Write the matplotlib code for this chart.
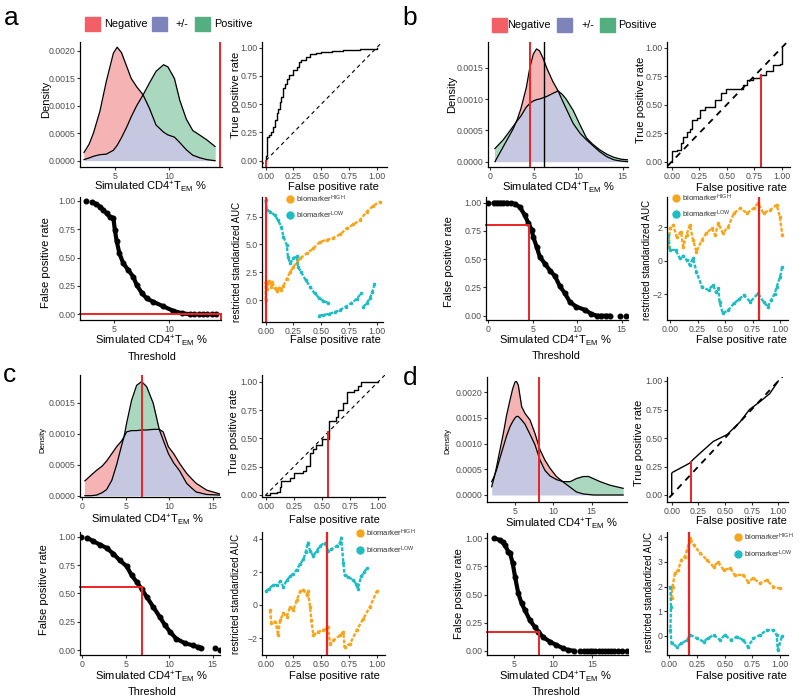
import numpy as np
import matplotlib
matplotlib.use("Agg")
import matplotlib.pyplot as plt
from matplotlib.patches import Rectangle
from matplotlib.lines import Line2D

plt.rcParams['font.family'] = ['Liberation Sans', 'DejaVu Sans']
plt.rcParams['mathtext.fontset'] = 'custom'
plt.rcParams['mathtext.rm'] = 'Liberation Sans'
plt.rcParams['mathtext.it'] = 'Liberation Sans:italic'
plt.rcParams['mathtext.bf'] = 'Liberation Sans:bold'
plt.rcParams['axes.unicode_minus'] = True

nan = np.nan

# ---------------- DATA ----------------
legend_labels = ["Negative", "+/-", "Positive"]
biomarker_labels = [r"biomarker$^{\mathrm{HIGH}}$", r"biomarker$^{\mathrm{LOW}}$"]

# density curves (x grid, negative density, positive density)
dens_a_x = [2.13, 2.6, 3.0, 3.6, 4.2, 4.85, 5.2, 5.6, 6.1, 6.5, 7.0, 7.6, 8.2, 8.8, 9.5, 9.9, 10.5, 11.0, 11.6, 12.2, 12.9, 13.5, 14.26]
dens_a_neg = [0.00015, 0.0003, 0.0005, 0.0009, 0.00145, 0.00196, 0.00207, 0.00197, 0.00171, 0.0015, 0.00135, 0.0012, 0.00095, 0.00065, 0.00052, 0.00047, 0.00043, 0.00033, 0.0002, 0.0001, 0.00005, 0.00002, 0.0]
dens_a_pos = [0.00002, 0.00005, 0.00008, 0.00011, 0.00012, 0.00019, 0.00028, 0.00042, 0.00062, 0.0008, 0.001, 0.0012, 0.00142, 0.00163, 0.00175, 0.00171, 0.0015, 0.0011, 0.00076, 0.00055, 0.00046, 0.00038, 0.00026]

dens_b_x = [0.56, 1.5, 2.6, 3.1, 3.5, 4.1, 4.5, 4.9, 5.26, 5.6, 6.0, 6.4, 7.1, 7.7, 8.2, 8.6, 9.4, 10.2, 10.9, 11.6, 12.4, 13.2, 14.0, 14.8, 15.6]
dens_b_neg = [0.0, 0.00024, 0.00052, 0.00068, 0.00085, 0.00118, 0.0015, 0.00172, 0.0018, 0.00177, 0.00165, 0.0015, 0.00128, 0.00113, 0.00097, 0.00085, 0.00061, 0.00045, 0.00035, 0.00026, 0.00016, 0.00008, 0.00003, 0.00001, 0.0]
dens_b_pos = [0.00021, 0.00035, 0.00056, 0.00066, 0.00073, 0.00087, 0.00093, 0.00097, 0.00099, 0.001, 0.00102, 0.00104, 0.00109, 0.00113, 0.00107, 0.001, 0.00082, 0.00058, 0.00038, 0.00028, 0.00019, 0.00012, 0.00007, 0.00004, 0.00003]

dens_c_x = [0.3, 1.0, 1.65, 2.3, 2.8, 3.4, 3.95, 4.5, 4.8, 5.1, 5.67, 6.25, 6.82, 7.4, 8.16, 8.85, 9.3, 9.9, 10.5, 11.2, 12.0, 12.6, 13.1, 14.3, 15.8]
dens_c_neg = [0.00024, 0.00033, 0.00041, 0.00048, 0.00056, 0.00068, 0.00079, 0.00088, 0.00095, 0.00103, 0.00105, 0.00105, 0.00106, 0.00106, 0.00107, 0.00107, 0.00103, 0.00079, 0.00068, 0.00052, 0.00036, 0.00027, 0.0002, 0.00009, 0.00003]
dens_c_pos = [0.0, 0.0, 0.00001, 0.00005, 0.0001, 0.00025, 0.0005, 0.0008, 0.00095, 0.00117, 0.00154, 0.00178, 0.00184, 0.00176, 0.00149, 0.00107, 0.0009, 0.00068, 0.00053, 0.0004, 0.0002, 0.00012, 0.00006, 0.00002, 0.00001]

dens_d_x = [1.96, 2.3, 2.6, 3.0, 3.48, 3.9, 4.35, 4.7, 5.0, 5.2, 5.43, 5.87, 6.3, 6.96, 7.6, 8.26, 8.9, 9.57, 10.4, 11.3, 12.2, 13.0, 13.9, 14.6, 15.2, 16.1, 17.4, 19.1]
dens_d_neg = [0.00016, 0.00035, 0.00055, 0.00085, 0.0012, 0.00155, 0.00185, 0.00207, 0.0022, 0.00221, 0.00214, 0.00172, 0.00159, 0.00146, 0.0012, 0.00088, 0.00068, 0.00052, 0.00036, 0.00025, 0.00015, 0.00006, 0.00002, 0.00001, 0.0, 0.0, 0.0, 0.0]
dens_d_pos = [0.00026, 0.00037, 0.00049, 0.0007, 0.00094, 0.00115, 0.00133, 0.00143, 0.0015, 0.00153, 0.00153, 0.00146, 0.00138, 0.00118, 0.00098, 0.00068, 0.00048, 0.00037, 0.0003, 0.00026, 0.00026, 0.00032, 0.00036, 0.00036, 0.00032, 0.00026, 0.00019, 0.00013]

# ROC curves
roc_a_fpr = [0, 0, 0.01, 0.03, 0.05, 0.07, 0.08, 0.1, 0.11, 0.13, 0.14, 0.16, 0.17, 0.19, 0.21, 0.25, 0.28, 0.3, 0.32, 0.36, 0.4, 0.45, 0.5, 0.6, 0.7, 0.85, 0.95, 1.0]
roc_a_tpr = [0, 0.04, 0.21, 0.23, 0.25, 0.3, 0.36, 0.42, 0.46, 0.52, 0.56, 0.64, 0.68, 0.72, 0.76, 0.8, 0.83, 0.87, 0.89, 0.92, 0.94, 0.95, 0.96, 0.975, 0.98, 0.985, 0.99, 1.0]
roc_b_fpr = [0, 0, 0.045, 0.08, 0.1, 0.14, 0.17, 0.18, 0.23, 0.26, 0.3, 0.35, 0.39, 0.44, 0.45, 0.49, 0.59, 0.65, 0.68, 0.74, 0.8, 0.86, 0.92, 0.98, 1.0, 1.0]
roc_b_tpr = [0, 0.09, 0.1, 0.16, 0.22, 0.26, 0.29, 0.37, 0.38, 0.45, 0.48, 0.48, 0.54, 0.54, 0.6, 0.64, 0.64, 0.67, 0.72, 0.73, 0.76, 0.8, 0.85, 0.86, 0.95, 1.0]
roc_c_fpr = [0, 0.04, 0.1, 0.13, 0.14, 0.22, 0.25, 0.33, 0.36, 0.39, 0.42, 0.45, 0.5, 0.56, 0.56, 0.62, 0.64, 0.69, 0.72, 0.78, 0.82, 0.85, 1.0]
roc_c_tpr = [0, 0.015, 0.03, 0.07, 0.12, 0.15, 0.19, 0.21, 0.26, 0.37, 0.41, 0.44, 0.49, 0.53, 0.65, 0.69, 0.75, 0.81, 0.91, 0.93, 0.96, 1.0, 1.0]
roc_d_fpr = [0, 0.0, 0.01, 0.05, 0.11, 0.17, 0.2, 0.27, 0.39, 0.52, 0.64, 0.73, 0.83, 0.92, 1.0]
roc_d_tpr = [0, 0.19, 0.2, 0.22, 0.25, 0.28, 0.31, 0.37, 0.47, 0.53, 0.64, 0.75, 0.82, 0.89, 1.0]

# False positive rate vs threshold: continuous run of dots + isolated dots
thr_a_x = [2.95, 3.3, 3.69, 4.0, 4.3, 4.6, 4.91, 5.06, 5.21, 5.46, 5.82, 6.28, 6.74, 7.04, 7.5, 7.96, 8.57, 9.48, 10.4, 11.16, 11.92]
thr_a_y = [0.99, 0.975, 0.95, 0.92, 0.89, 0.86, 0.85, 0.74, 0.65, 0.54, 0.45, 0.39, 0.33, 0.26, 0.19, 0.14, 0.11, 0.07, 0.03, 0.01, 0.0]
thr_a_dx = [2.41, 12.3, 12.7, 13.1, 13.5, 13.9, 14.3]
thr_a_dy = [1.0, 0.0, 0.0, 0.0, 0.0, 0.0, 0.0]

thr_b_x = [0.6, 1.0, 1.3, 1.7, 2.06, 2.5, 3.0, 3.56, 4.1, 4.5, 4.87, 5.05, 5.43, 5.8, 6.37, 6.93, 7.5, 8.05, 8.6, 9.18, 9.9, 10.9, 11.6, 12.2, 12.7, 13.2, 13.7]
thr_b_y = [1.0, 1.0, 1.0, 1.0, 1.0, 0.995, 0.99, 0.96, 0.89, 0.82, 0.76, 0.70, 0.61, 0.52, 0.46, 0.40, 0.35, 0.26, 0.20, 0.12, 0.08, 0.05, 0.015, 0.0, 0.0, 0.0, 0.0]
thr_b_dx = [0.0, 14.8, 15.5]
thr_b_dy = [1.0, 0.0, 0.0]

thr_c_x = [0.57, 1.26, 2.03, 2.8, 3.56, 4.33, 5.1, 5.67, 6.25, 6.82, 7.4, 8.16, 8.93, 9.5, 10.1, 10.8, 11.8, 12.76, 13.3, 13.6]
thr_c_y = [0.99, 0.96, 0.93, 0.9, 0.85, 0.79, 0.74, 0.66, 0.6, 0.54, 0.47, 0.38, 0.29, 0.22, 0.16, 0.1, 0.06, 0.04, 0.025, 0.02]
thr_c_dx = [-0.1, 15.25, 15.8]
thr_c_dy = [1.0, 0.015, 0.0]

thr_d_x = [2.44, 3.16, 3.5, 3.8, 4.23, 4.44, 4.79, 5.09, 5.51, 5.94, 6.37, 7.0, 7.65, 8.08, 8.7, 9.57, 10.4, 11.3, 11.9, 12.6]
thr_d_y = [1.0, 0.985, 0.965, 0.94, 0.88, 0.87, 0.78, 0.66, 0.51, 0.42, 0.36, 0.27, 0.21, 0.17, 0.12, 0.08, 0.05, 0.02, 0.006, 0.0]
thr_d_dx = [13.4, 13.9, 14.3, 14.7, 15.0, 15.4, 15.8, 16.2, 16.6, 17.0, 17.4, 17.8, 18.3, 18.8, 19.4]
thr_d_dy = [0.0] * 15

# restricted standardized AUC (biomarker HIGH = orange, LOW = cyan)
auc_a_hx = [0.0, 0.0, 0.01, 0.02, 0.03, 0.05, 0.06, 0.08, 0.1, 0.12, 0.14, 0.16, 0.19, 0.22, 0.25, 0.28, 0.31, 0.37, 0.43, 0.49, 0.55, 0.61, 0.67, 0.73, 0.79, 0.85, 0.91, 0.97, 1.03]
auc_a_hy = [0.0, 1.6, 1.0, 1.5, 1.7, 1.2, 1.6, 1.1, 0.8, 1.1, 0.9, 1.3, 1.9, 2.5, 3.0, 3.4, 3.75, 4.2, 4.65, 5.25, 5.4, 5.6, 5.9, 6.45, 6.8, 7.2, 7.95, 8.5, 8.85]
auc_a_lx = [0.0, 0.01, 0.04, 0.08, 0.11, 0.14, 0.16, 0.19, 0.2, 0.22, 0.25, 0.28, 0.29, 0.32, 0.36, 0.4, 0.44, 0.48, 0.52, 0.56, nan, 0.48, 0.52, 0.57, 0.62, 0.67, 0.72, 0.77, 0.82, 0.86, nan, 0.88, 0.91, 0.94, 0.96, 0.98]
auc_a_ly = [9.0, 8.1, 7.95, 7.65, 7.2, 6.6, 5.7, 4.95, 3.9, 3.3, 3.75, 3.95, 3.0, 2.5, 1.8, 1.2, 0.6, 0.2, -0.1, -0.25, nan, -1.4, -1.35, -1.25, -1.1, -0.9, -0.6, -0.3, 0.1, 0.6, nan, -0.6, -0.3, 0.2, 0.7, 1.4]

auc_b_hx = [-0.015, 0.0, 0.03, 0.06, 0.1, 0.12, 0.15, 0.18, 0.21, 0.24, 0.29, 0.33, 0.38, 0.41, 0.44, 0.48, 0.53, 0.58, 0.64, 0.7, 0.76, 0.8, 0.85, 0.91, 0.97, 1.0, 1.02]
auc_b_hy = [0.84, 1.94, 2.14, 1.44, 1.74, 0.84, 1.54, 2.14, 1.24, 0.54, 1.24, 1.64, 1.94, 1.54, 2.24, 1.64, 2.04, 2.84, 3.14, 2.84, 3.14, 3.44, 2.84, 3.04, 3.34, 2.6, 1.54]
auc_b_lx = [-0.015, 0.0, 0.05, 0.09, 0.12, 0.15, 0.18, 0.21, 0.24, 0.29, 0.35, 0.39, 0.42, 0.44, 0.45, 0.48, 0.53, 0.58, 0.63, 0.67, 0.73, 0.8, 0.85, 0.89, 0.92, 0.95, 0.97, 1.0, 1.02]
auc_b_ly = [1.54, 0.64, 0.64, 0.14, 0.3, 0.04, -0.26, 0.14, -0.66, -1.56, -1.76, -1.46, -1.9, -1.66, -2.46, -3.16, -2.96, -2.56, -2.3, -2.06, -2.46, -1.96, -2.46, -2.76, -2.36, -2.0, -1.56, -1.0, -0.36]

auc_c_hx = [0.04, 0.05, 0.08, 0.1, 0.11, 0.13, 0.16, 0.19, 0.22, 0.25, 0.28, 0.31, 0.34, 0.37, 0.38, 0.4, 0.41, 0.43, 0.47, 0.52, 0.56, 0.58, 0.61, 0.67, 0.7, 0.71, 0.76, 0.82, 0.88, 0.94, 1.0]
auc_c_hy = [-0.3, -1.12, -1.0, -1.33, -1.84, -0.92, -0.5, -0.71, -0.1, -0.3, 0.31, 0.82, 0.92, 0.61, 0.82, -0.1, -0.92, -1.84, -1.63, -1.53, -1.33, -2.35, -2.14, -1.84, -1.63, -2.55, -2.35, -1.53, -0.82, -0.1, 0.82]
auc_c_lx = [0.0, 0.03, 0.07, 0.1, 0.13, 0.16, 0.19, 0.22, 0.25, 0.28, 0.31, 0.34, 0.36, 0.38, 0.4, 0.43, 0.46, 0.49, 0.53, 0.56, 0.59, 0.64, 0.67, 0.68, 0.7, 0.71, 0.74, 0.79, 0.81, 0.83, 0.86, 0.89, 0.91]
auc_c_ly = [0.82, 1.0, 1.22, 1.2, 1.43, 1.12, 1.5, 1.73, 1.9, 2.14, 2.5, 2.76, 3.2, 3.78, 3.27, 2.96, 3.3, 3.57, 3.78, 3.3, 3.37, 3.57, 3.78, 4.08, 2.55, 1.84, 1.7, 1.53, 1.3, 1.0, 1.73, 2.0, 2.24]

auc_d_hx = [0.02, 0.03, 0.05, 0.08, 0.11, 0.14, 0.16, 0.18, 0.19, 0.22, 0.28, 0.34, 0.40, 0.44, 0.49, 0.55, 0.59, 0.67, 0.71, 0.76, 0.82, 0.88, 0.94, 1.0]
auc_d_hy = [1.52, 2.0, 2.53, 2.67, 3.08, 3.21, 3.48, 3.82, 3.96, 3.69, 3.35, 3.08, 2.8, 3.0, 2.67, 2.74, 2.47, 2.47, 2.2, 2.33, 2.13, 2.26, 1.99, 1.92]
auc_d_lx = [0.01, 0.015, 0.01, 0.02, 0.07, 0.11, 0.16, 0.19, 0.25, 0.31, 0.35, 0.40, 0.46, 0.50, 0.56, 0.61, 0.67, 0.71, 0.76, 0.82, 0.88, 0.94, 0.97, 0.98, 1.02]
auc_d_ly = [2.0, 1.18, 0.23, -0.31, -0.45, -0.31, -0.18, 0.03, -0.11, -0.24, -0.1, 0.03, -0.18, 0.03, -0.18, -0.04, -0.18, -0.45, -0.11, 0.03, 0.23, 0.23, 0.03, -0.58, 0.0]

# cut-offs (threshold, false positive rate, true positive rate)
cut_a = (14.72, 0.0, 0.0)
cut_b = (4.57, 0.81, 0.76)
cut_c = (6.82, 0.555, 0.56)
cut_d = (8.13, 0.18, 0.29)
b_reference_line = 6.1

# ---------------- STYLE ----------------
PINK_FILL = '#F5B3B3'
LAV_FILL = '#C5C8E0'
GREEN_FILL = '#A9D8BF'
KEY_COLORS = ['#F25F64', '#7D84B9', '#53AE80']
ORANGE = '#F7A51C'
CYAN = '#1DBDC3'
RED = '#EE2222'
TICKC = '#4D4D4D'

W, H = 800, 698
fig = plt.figure(figsize=(W / 100, H / 100), dpi=100)


def add_ax(l, t, r, b):
    return fig.add_axes([l / W, 1 - b / H, (r - l) / W, (b - t) / H])


def lim(p_lo, p_hi, v1, p1, v2, p2):
    s = (v2 - v1) / (p2 - p1)
    return v1 + (p_lo - p1) * s, v1 + (p_hi - p1) * s


def ftext(x, y, s, **kw):
    kw.setdefault('ha', 'center')
    kw.setdefault('va', 'center')
    fig.text(x / W, 1 - y / H, s, **kw)


def fmt_num(v, f):
    s = f.format(v)
    return s.replace('-', '\u2212')


def setup(box, xref, yref, xticks, xfmt, yticks, yfmt):
    l, t, r, b = box
    ax = add_ax(l, t, r, b)
    ax.set_xlim(*lim(l, r, *xref))
    ax.set_ylim(*lim(b, t, *yref))
    for s in ['top', 'right']:
        ax.spines[s].set_visible(False)
    for s in ['left', 'bottom']:
        ax.spines[s].set_linewidth(0.9)
        ax.spines[s].set_color('black')
    ax.set_xticks(xticks)
    ax.set_xticklabels([fmt_num(v, xfmt) for v in xticks])
    ax.set_yticks(yticks)
    ax.set_yticklabels([fmt_num(v, yfmt) for v in yticks])
    ax.tick_params(length=2.5, width=0.8, color='#333333', labelsize=6.3,
                   labelcolor=TICKC, pad=0.8)
    return ax


def density(ax, x, neg, pos, cut, extra=None):
    x = np.array(x); neg = np.array(neg); pos = np.array(pos)
    ax.fill_between(x, 0, np.maximum(neg, pos), color=LAV_FILL, lw=0)
    ax.fill_between(x, pos, neg, where=neg >= pos, interpolate=True, color=PINK_FILL, lw=0)
    ax.fill_between(x, neg, pos, where=pos >= neg, interpolate=True, color=GREEN_FILL, lw=0)
    ax.plot(x, neg, color='black', lw=0.9)
    ax.plot(x, pos, color='black', lw=0.9)
    ax.axvline(cut, color=RED, lw=1.4)
    if extra is not None:
        ax.axvline(extra, color='black', lw=1.0)


def roc(ax, fpr, tpr, cut, dash_lw, steps=True):
    ax.plot([-1, 2], [-1, 2], color='black', lw=dash_lw, ls=(0, (3.5, 3)))
    ax.plot(fpr, tpr, color='black', lw=1.0,
            drawstyle='steps-post' if steps else 'default')
    ylo = ax.get_ylim()[0]
    ax.plot([cut[1], cut[1]], [ylo, cut[2]], color=RED, lw=1.4)


def thresh(ax, x, y, dx, dy, cut):
    ax.plot(x, y, color='black', lw=3.0, marker='o', ms=3.3, solid_capstyle='round')
    ax.plot(dx, dy, 'o', color='black', ms=3.3)
    xlo = ax.get_xlim()[0]
    ylo = ax.get_ylim()[0]
    ax.plot([xlo, cut[0]], [cut[1], cut[1]], color=RED, lw=1.4, clip_on=False)
    ax.plot([cut[0], cut[0]], [ylo, cut[1]], color=RED, lw=1.4, clip_on=False)


def aucplot(ax, hx, hy, lx, ly, cut):
    ax.plot(hx, hy, color=ORANGE, lw=1.7, ls=(0, (1.6, 0.7)), marker='o', ms=1.6)
    ax.plot(lx, ly, color=CYAN, lw=1.7, ls=(0, (1.6, 0.7)), marker='o', ms=1.6)
    ax.axvline(cut[1], color=RED, lw=1.6)


def auc_legend(x, y1, y2):
    for yy, col, lab in [(y1, ORANGE, biomarker_labels[0]), (y2, CYAN, biomarker_labels[1])]:
        fig.add_artist(Line2D([x / W], [1 - yy / H], marker='o', ms=5, color=col,
                              transform=fig.transFigure))
        ftext(x + 6, yy, lab, ha='left', fontsize=5.6, color='#333333')


def top_legend(keys_x, texts_x, y0, y1):
    for kx, tx, col, lab in zip(keys_x, texts_x, KEY_COLORS, legend_labels):
        fig.add_artist(Rectangle((kx / W, 1 - y1 / H), 15 / W, (y1 - y0) / H,
                                 color=col, transform=fig.transFigure))
        ftext(tx, (y0 + y1) / 2, lab, ha='left', fontsize=7.8, color='black')


LBL = 8.0
cd4 = r"Simulated CD4$^{+}$T$_{\mathrm{EM}}$ %"
roc_ticks = [0, 0.25, 0.5, 0.75, 1.0]

# ===================== panel a =====================
ax = setup((80, 42, 222, 167), (5, 115, 10, 169), (0, 160.7, 0.002, 51),
           [5, 10], "{:g}", [0, 0.0005, 0.001, 0.0015, 0.002], "{:.4f}")
density(ax, dens_a_x, dens_a_neg, dens_a_pos, cut_a[0])
ax = setup((262, 42, 387, 167), (0, 265.7, 1, 376.7), (0, 160.7, 1, 47.7),
           roc_ticks, "{:.2f}", roc_ticks, "{:.2f}")
roc(ax, roc_a_fpr, roc_a_tpr, cut_a, 0.8)
ax = setup((80, 197, 221, 320), (5, 114.3, 10, 169), (0, 314.3, 1, 201),
           [5, 10], "{:g}", roc_ticks, "{:.2f}")
thresh(ax, thr_a_x, thr_a_y, thr_a_dx, thr_a_dy, cut_a)
ax = setup((262, 197, 383, 322), (0, 265.7, 1, 376.7), (0, 300, 7.5, 216.7),
           roc_ticks, "{:.2f}", [0, 2.5, 5, 7.5], "{:.1f}")
aucplot(ax, auc_a_hx, auc_a_hy, auc_a_lx, auc_a_ly, cut_a)
auc_legend(290, 199, 215)

ftext(4, 25, "a", ha='left', va='baseline', fontsize=19)
top_legend([85, 152, 195], [104, 175, 214], 17, 31)
ftext(46, 99, "Density", rotation=90, fontsize=LBL)
ftext(151, 187.5, cd4, fontsize=LBL)
ftext(236, 95, "True positive rate", rotation=90, fontsize=LBL)
ftext(333, 186.5, "False positive rate", fontsize=LBL)
ftext(46, 263, "False positive rate", rotation=90, fontsize=LBL)
ftext(152, 341.5, cd4, fontsize=LBL)
ftext(152, 356.5, "Threshold", fontsize=7.8)
ftext(237, 262, "restricted standardized AUC", rotation=90, fontsize=6.9)
ftext(335, 339.5, "False positive rate", fontsize=LBL)

# ===================== panel b =====================
ax = setup((488, 42, 628, 167), (0, 490, 15, 622.7), (0, 161.7, 0.0015, 67.7),
           [0, 5, 10, 15], "{:g}", [0, 0.0005, 0.001, 0.0015], "{:.4f}")
density(ax, dens_b_x, dens_b_neg, dens_b_pos, cut_b[0], extra=b_reference_line)
ax = setup((667, 42, 790, 167), (0, 671.7, 1, 781.7), (0, 161.7, 1, 47.7),
           roc_ticks, "{:.2f}", roc_ticks, "{:.2f}")
roc(ax, roc_b_fpr, roc_b_tpr, cut_b, 1.3)
ax = setup((486, 197, 628, 320), (0, 488.3, 15, 621.7), (0, 315.7, 1, 202.7),
           [0, 5, 10, 15], "{:g}", roc_ticks, "{:.2f}")
thresh(ax, thr_b_x, thr_b_y, thr_b_dx, thr_b_dy, (cut_b[0], 0.80))
ax = setup((667, 197, 788, 320), (0, 670, 1, 780), (0, 260.7, 2, 227.3),
           roc_ticks, "{:.2f}", [-2, 0, 2], "{:g}")
aucplot(ax, auc_b_hx, auc_b_hy, auc_b_lx, auc_b_ly, cut_b)
auc_legend(676, 198, 214)

ftext(402, 25, "b", ha='left', va='baseline', fontsize=19)
top_legend([492, 557, 600], [507.5, 582, 618], 18, 32)
ftext(452, 94, "Density", rotation=90, fontsize=LBL)
ftext(559, 188.5, cd4, fontsize=LBL)
ftext(741, 187.5, "False positive rate", fontsize=LBL)
ftext(641, 100, "True positive rate", rotation=90, fontsize=LBL)
ftext(449, 262, "False positive rate", rotation=90, fontsize=LBL)
ftext(556, 341, cd4, fontsize=LBL)
ftext(556, 356, "Threshold", fontsize=7.8)
ftext(647, 260, "restricted standardized AUC", rotation=90, fontsize=6.9)
ftext(741, 340, "False positive rate", fontsize=LBL)

# ===================== panel c =====================
ax = setup((80, 375, 220, 497), (0, 82.3, 15, 212.7), (0, 495.7, 0.0015, 402.7),
           [0, 5, 10, 15], "{:g}", [0, 0.0005, 0.001, 0.0015], "{:.4f}")
density(ax, dens_c_x, dens_c_neg, dens_c_pos, cut_c[0])
ax = setup((262, 375, 385, 497), (0, 265.7, 1, 378.3), (0, 495, 1, 381.7),
           roc_ticks, "{:.2f}", roc_ticks, "{:.2f}")
roc(ax, roc_c_fpr, roc_c_tpr, cut_c, 0.8)
ax = setup((80, 532, 220, 655), (0, 82.3, 15, 212.7), (0, 650, 1, 536.7),
           [0, 5, 10, 15], "{:g}", roc_ticks, "{:.2f}")
thresh(ax, thr_c_x, thr_c_y, thr_c_dx, thr_c_dy, cut_c)
ax = setup((262, 532, 385, 655), (0, 265.7, 1, 376.7), (0, 605, 4, 539),
           roc_ticks, "{:.2f}", [-2, 0, 2, 4], "{:g}")
aucplot(ax, auc_c_hx, auc_c_hy, auc_c_lx, auc_c_ly, cut_c)
auc_legend(360, 533, 550)

ftext(3, 382, "c", ha='left', va='baseline', fontsize=19)
ftext(43, 440, "Density", rotation=90, fontsize=5.6)
ftext(148, 520, cd4, fontsize=LBL)
ftext(234, 432, "True positive rate", rotation=90, fontsize=LBL)
ftext(334, 520, "False positive rate", fontsize=LBL)
ftext(44, 590, "False positive rate", rotation=90, fontsize=LBL)
ftext(152, 677.5, cd4, fontsize=LBL)
ftext(152, 692, "Threshold", fontsize=7.8)
ftext(236, 594, "restricted standardized AUC", rotation=90, fontsize=6.9)
ftext(334, 676, "False positive rate", fontsize=LBL)

# ===================== panel d =====================
ax = setup((487, 377, 627, 502), (5, 515, 15, 591.7), (0, 495, 0.002, 392.3),
           [5, 10, 15], "{:g}", [0, 0.0005, 0.001, 0.0015, 0.002], "{:.4f}")
density(ax, dens_d_x, dens_d_neg, dens_d_pos, cut_d[0])
ax = setup((667, 377, 788, 502), (0, 671.7, 1, 778.3), (0, 495, 1, 381),
           roc_ticks, "{:.2f}", roc_ticks, "{:.2f}")
roc(ax, roc_d_fpr, roc_d_tpr, cut_d, 1.3, steps=False)
ax = setup((487, 533, 628, 655), (5, 514.3, 15, 592.3), (0, 650.7, 1, 538.3),
           [5, 10, 15], "{:g}", roc_ticks, "{:.2f}")
thresh(ax, thr_d_x, thr_d_y, thr_d_dx, thr_d_dy, (cut_d[0], 0.17))
ax = setup((667, 532, 788, 655), (0, 669.3, 1, 780), (0, 635.7, 4, 537.3),
           roc_ticks, "{:.2f}", [0, 1, 2, 3, 4], "{:g}")
aucplot(ax, auc_d_hx, auc_d_hy, auc_d_lx, auc_d_ly, cut_d)
auc_legend(738, 537, 554)

ftext(403, 385, "d", ha='left', va='baseline', fontsize=19)
ftext(448, 441, "Density", rotation=90, fontsize=5.6)
ftext(562, 524, cd4, fontsize=LBL)
ftext(639, 443, "True positive rate", rotation=90, fontsize=LBL)
ftext(741, 520.5, "False positive rate", fontsize=LBL)
ftext(459, 594, "False positive rate", rotation=90, fontsize=LBL)
ftext(556, 677.5, cd4, fontsize=LBL)
ftext(556, 692, "Threshold", fontsize=7.8)
ftext(649, 592, "restricted standardized AUC", rotation=90, fontsize=6.9)
ftext(741, 676, "False positive rate", fontsize=LBL)

fig.savefig("out.png", dpi=100)
